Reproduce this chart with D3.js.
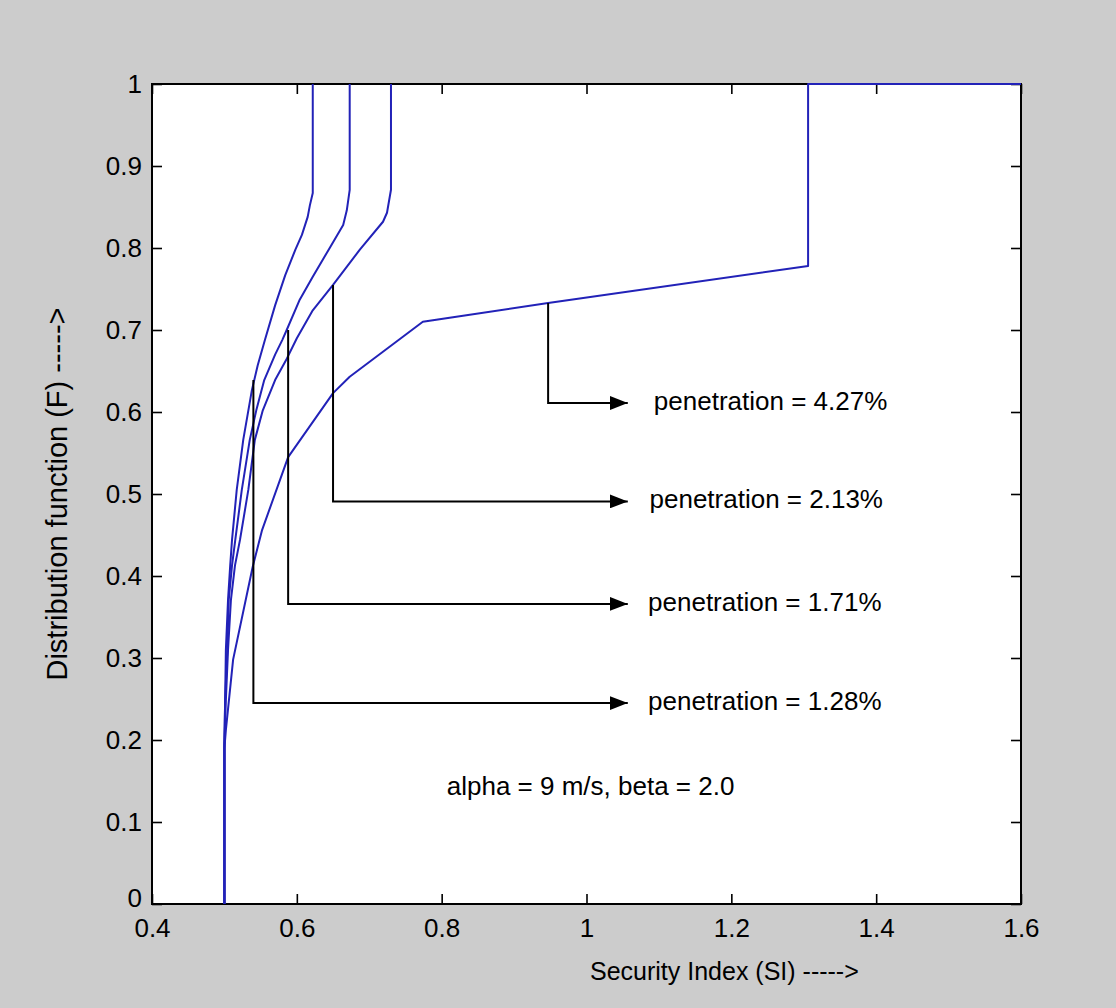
<!DOCTYPE html>
<html>
<head>
<meta charset="utf-8">
<script src="https://d3js.org/d3.v7.min.js"></script>
<style>
  html, body { margin: 0; padding: 0; background: #cccccc; }
  svg { display: block; }
  text { font-family: "Liberation Sans", Arial, Helvetica, sans-serif; fill: #000; }
</style>
</head>
<body>
<div id="chart"></div>
<script>
// Distribution function of the security index for four wind penetration levels
const xTicks = [0.4, 0.6, 0.8, 1.0, 1.2, 1.4, 1.6];
const xTickLabels = ["0.4", "0.6", "0.8", "1", "1.2", "1.4", "1.6"];
const yTicks = [0, 0.1, 0.2, 0.3, 0.4, 0.5, 0.6, 0.7, 0.8, 0.9, 1.0];
const yTickLabels = ["0", "0.1", "0.2", "0.3", "0.4", "0.5", "0.6", "0.7", "0.8", "0.9", "1"];

// penetration = 1.28%
const siA = [0.5, 0.5, 0.501, 0.502, 0.505, 0.508, 0.5105, 0.517, 0.526, 0.538, 0.546, 0.556, 0.570, 0.584, 0.598, 0.607, 0.615, 0.618, 0.622, 0.622];
const fA  = [0, 0.194, 0.249, 0.310, 0.371, 0.413, 0.444, 0.505, 0.566, 0.627, 0.657, 0.688, 0.730, 0.767, 0.798, 0.816, 0.838, 0.852, 0.867, 1.0];
// penetration = 1.71%
const siB = [0.5, 0.5, 0.501, 0.504, 0.506, 0.5105, 0.515, 0.524, 0.535, 0.544, 0.555, 0.570, 0.580, 0.586, 0.604, 0.622, 0.646, 0.664, 0.669, 0.673, 0.673];
const fB  = [0, 0.194, 0.249, 0.310, 0.371, 0.413, 0.444, 0.505, 0.566, 0.602, 0.639, 0.670, 0.688, 0.700, 0.737, 0.765, 0.801, 0.828, 0.846, 0.871, 1.0];
// penetration = 2.13%
const siC = [0.5, 0.5, 0.502, 0.505, 0.509, 0.5146, 0.5215, 0.533, 0.542, 0.553, 0.570, 0.585, 0.600, 0.622, 0.650, 0.687, 0.719, 0.7245, 0.730, 0.730];
const fC  = [0, 0.194, 0.249, 0.310, 0.371, 0.413, 0.444, 0.505, 0.566, 0.602, 0.639, 0.663, 0.690, 0.724, 0.755, 0.798, 0.832, 0.843, 0.871, 1.0];
// penetration = 4.27%
const siD = [0.5, 0.5, 0.502, 0.512, 0.539, 0.552, 0.588, 0.650, 0.673, 0.774, 0.811, 0.947, 1.306, 1.306, 1.6];
const fD  = [0, 0.19, 0.212, 0.298, 0.411, 0.456, 0.545, 0.623, 0.643, 0.710, 0.715, 0.733, 0.778, 1.0, 1.0];

// Leader arrows pointing from each curve to its label
const penetrationLabels = ["penetration = 4.27%", "penetration = 2.13%", "penetration = 1.71%", "penetration = 1.28%"];
const leaderSI = [0.947, 0.650, 0.588, 0.540];
const leaderTopF = [0.733, 0.755, 0.700, 0.639];
const leaderElbowF = [0.611, 0.491, 0.366, 0.245];
const arrowTipSI = 1.057;
const labelSI = [1.093, 1.087, 1.085, 1.085];
const noteText = "alpha = 9 m/s, beta = 2.0";
const noteSI = 0.807;
const noteF = 0.143;

const W = 1116, H = 1008;
const plot = { left: 152, right: 1021, top: 84, bottom: 904 };

const svg = d3.select("#chart").append("svg")
  .attr("width", W).attr("height", H);

svg.append("rect").attr("width", W).attr("height", H).attr("fill", "#cccccc");

const x = d3.scaleLinear().domain([0.4, 1.6]).range([plot.left, plot.right]);
const y = d3.scaleLinear().domain([0, 1]).range([plot.bottom, plot.top]);

// white axes background
svg.append("rect")
  .attr("x", plot.left).attr("y", plot.top)
  .attr("width", plot.right - plot.left).attr("height", plot.bottom - plot.top)
  .attr("fill", "#ffffff");

const tickLen = 10;
const fmtX = (d, i) => xTickLabels[i];
const fmtY = (d, i) => yTickLabels[i];

function styleAxis(g, fontSize) {
  g.select(".domain").remove();
  g.selectAll(".tick line").attr("stroke", "#000").attr("stroke-width", 1.6);
  g.selectAll(".tick text").attr("font-size", fontSize)
    .attr("font-family", "'Liberation Sans', Arial, sans-serif").attr("fill", "#000");
}

svg.append("g").attr("transform", `translate(0,${plot.bottom})`)
  .call(d3.axisBottom(x).tickValues(xTicks).tickFormat(fmtX).tickSizeInner(-tickLen).tickSizeOuter(0).tickPadding(15))
  .call(g => styleAxis(g, 26));

svg.append("g").attr("transform", `translate(${plot.left},0)`)
  .call(d3.axisLeft(y).tickValues(yTicks).tickFormat(fmtY).tickSizeInner(-tickLen).tickSizeOuter(0).tickPadding(10))
  .call(g => styleAxis(g, 26))
  // the zero label sits a touch above its tick so it clears the 0.4 label below
  .call(g => g.selectAll(".tick text").filter(d => d === 0).attr("dy", "0.1em"));

svg.append("g").attr("transform", `translate(0,${plot.top})`)
  .call(d3.axisTop(x).tickValues(xTicks).tickFormat("").tickSizeInner(-tickLen).tickSizeOuter(0))
  .call(g => styleAxis(g, 26));

svg.append("g").attr("transform", `translate(${plot.right},0)`)
  .call(d3.axisRight(y).tickValues(yTicks).tickFormat("").tickSizeInner(-tickLen).tickSizeOuter(0))
  .call(g => styleAxis(g, 26));

// axes box
svg.append("rect")
  .attr("x", plot.left).attr("y", plot.top)
  .attr("width", plot.right - plot.left).attr("height", plot.bottom - plot.top)
  .attr("fill", "none").attr("stroke", "#000").attr("stroke-width", 2);

// CDF curves
const curves = [
  { si: siA, f: fA },
  { si: siB, f: fB },
  { si: siC, f: fC },
  { si: siD, f: fD }
];
const line = d3.line().x(d => x(d[0])).y(d => y(d[1]));
svg.append("g").selectAll("path.cdf")
  .data(curves).join("path")
  .attr("class", "cdf")
  .attr("d", c => line(c.si.map((s, i) => [s, c.f[i]])))
  .attr("fill", "none")
  .attr("stroke", "#2222b8")
  .attr("stroke-width", 2)
  .attr("stroke-linejoin", "round");

// arrowhead marker
svg.append("defs").append("marker")
  .attr("id", "arrowhead")
  .attr("markerUnits", "userSpaceOnUse")
  .attr("viewBox", "0 0 18 14")
  .attr("refX", 18).attr("refY", 7)
  .attr("markerWidth", 18).attr("markerHeight", 14)
  .attr("orient", "auto")
  .append("path").attr("d", "M0,0 L18,7 L0,14 Z").attr("fill", "#000");

const leaders = penetrationLabels.map((t, i) => ({
  text: t, sx: leaderSI[i], topF: leaderTopF[i], elbowF: leaderElbowF[i], lx: labelSI[i]
}));

const ann = svg.append("g");
ann.selectAll("path.leader")
  .data(leaders).join("path")
  .attr("class", "leader")
  .attr("d", d => line([[d.sx, d.topF], [d.sx, d.elbowF], [arrowTipSI, d.elbowF]]))
  .attr("fill", "none")
  .attr("stroke", "#000")
  .attr("stroke-width", 2)
  .attr("marker-end", "url(#arrowhead)");

ann.selectAll("text.pen")
  .data(leaders).join("text")
  .attr("class", "pen")
  .attr("x", d => x(d.lx))
  .attr("y", d => y(d.elbowF))
  .attr("dy", "0.26em")
  .attr("font-size", 26)
  .text(d => d.text);

ann.append("text")
  .attr("x", x(noteSI)).attr("y", y(noteF))
  .attr("dy", "0.32em")
  .attr("font-size", 26)
  .text(noteText);

// axis titles
svg.append("text")
  .attr("x", 590).attr("y", 971)
  .attr("dy", "0.35em")
  .attr("font-size", 25)
  .text("Security Index (SI) ----->");

svg.append("text")
  .attr("transform", `translate(57,${(plot.top + plot.bottom) / 2}) rotate(-90)`)
  .attr("text-anchor", "middle")
  .attr("dy", "0.35em")
  .attr("font-size", 29)
  .text("Distribution function (F) ----->");
</script>
</body>
</html>
